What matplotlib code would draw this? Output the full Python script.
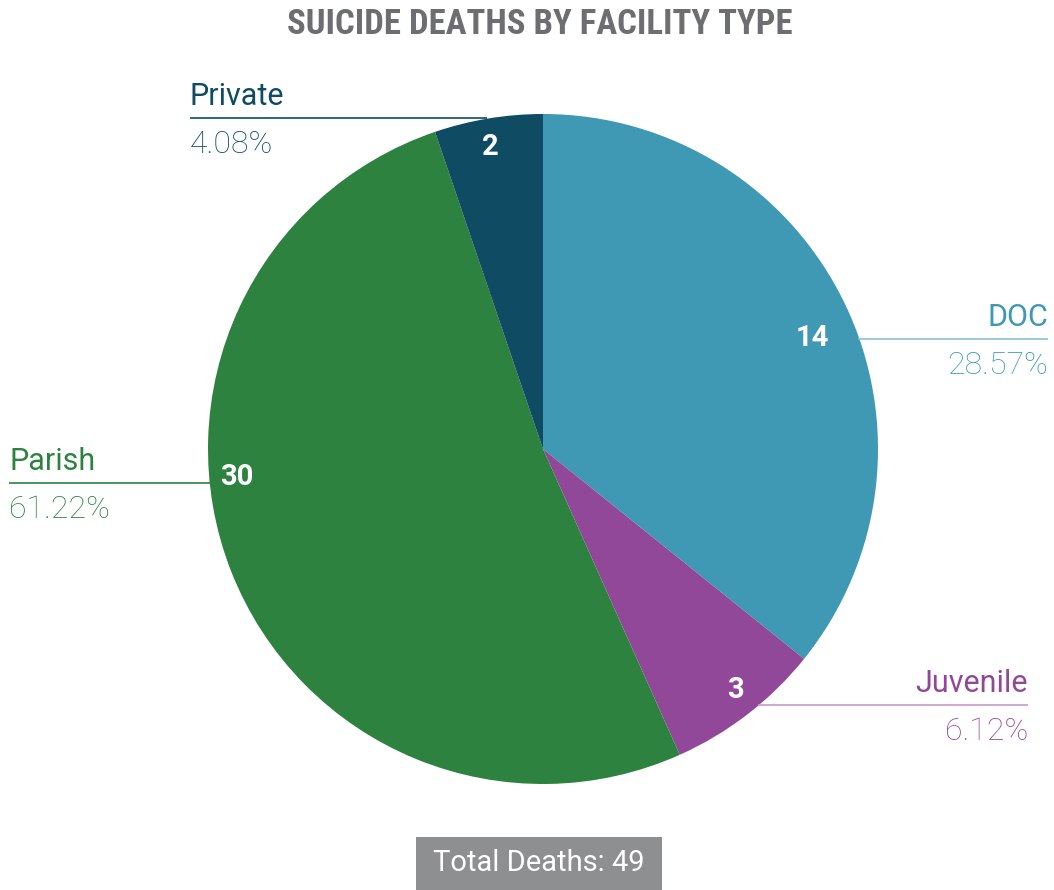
import matplotlib
matplotlib.use('Agg')
import matplotlib.pyplot as plt
from matplotlib.patches import Rectangle

W, H = 1054, 890

# data
categories = ['DOC', 'Juvenile', 'Parish', 'Private']
deaths = [14, 3, 30, 2]
percent_labels = ['28.57%', '6.12%', '61.22%', '4.08%']
# slice sizes as drawn in the picture (degrees, clockwise from top)
slice_deg = [128.8, 27.1, 185.3, 18.8]
total_label = 'Total Deaths: 49'
title = 'SUICIDE DEATHS BY FACILITY TYPE'

colors = ['#3f99b4', '#924898', '#2e8240', '#0f4b62']
line_colors = ['#86c1d2', '#c69bc9', '#2e8240', '#0f4b62']

# layout in pixel coords (y down from top)
center = (543, 449)
radius = 335
# leader line: y, x start (label side), x end (pie side), side
leaders = [
    (339, 1048, 858, 'right'),
    (705, 1028, 758, 'right'),
    (483, 9, 210, 'left'),
    (118, 190, 487, 'left'),
]
number_pos = [(812, 338), (735, 690), (237, 477), (490, 147)]

plt.rcParams['font.family'] = ['Roboto', 'DejaVu Sans']


def py(y):
    return H - y


fig = plt.figure(figsize=(W / 100, H / 100), dpi=100)
ax = fig.add_axes([0, 0, 1, 1])

ax.pie(slice_deg, colors=colors, startangle=90, counterclock=False,
       center=(center[0], py(center[1])), radius=radius,
       wedgeprops=dict(linewidth=0), frame=True)
ax.set_xlim(0, W)
ax.set_ylim(0, H)
ax.set_aspect('equal')
ax.axis('off')

for i, cat in enumerate(categories):
    ly, xa, xb, side = leaders[i]
    ax.plot([xa, xb], [py(ly), py(ly)], color=line_colors[i], lw=1.2,
            solid_capstyle='butt')
    ha = 'right' if side == 'right' else 'left'
    ax.text(xa, py(ly - 13), cat, ha=ha, va='baseline', fontsize=22,
            color=colors[i])
    ax.text(xa, py(ly + 35), percent_labels[i], ha=ha, va='baseline',
            fontsize=23, fontweight='light', color=colors[i])
    nx, ny = number_pos[i]
    ax.text(nx, py(ny), str(deaths[i]), ha='center', va='center',
            fontsize=21, fontweight='bold', color='white')

ax.text(540, py(25), title, ha='center', va='center', fontsize=25,
        fontweight='bold', color='#6d6e71',
        family=['Roboto Condensed', 'Roboto', 'DejaVu Sans'])

ax.add_patch(Rectangle((416, py(890)), 246, 53, facecolor='#8e8f91',
                       edgecolor='none'))
ax.text(539, py(863), total_label, ha='center', va='center', fontsize=21,
        color='white')

fig.savefig('out.png', dpi=100)
